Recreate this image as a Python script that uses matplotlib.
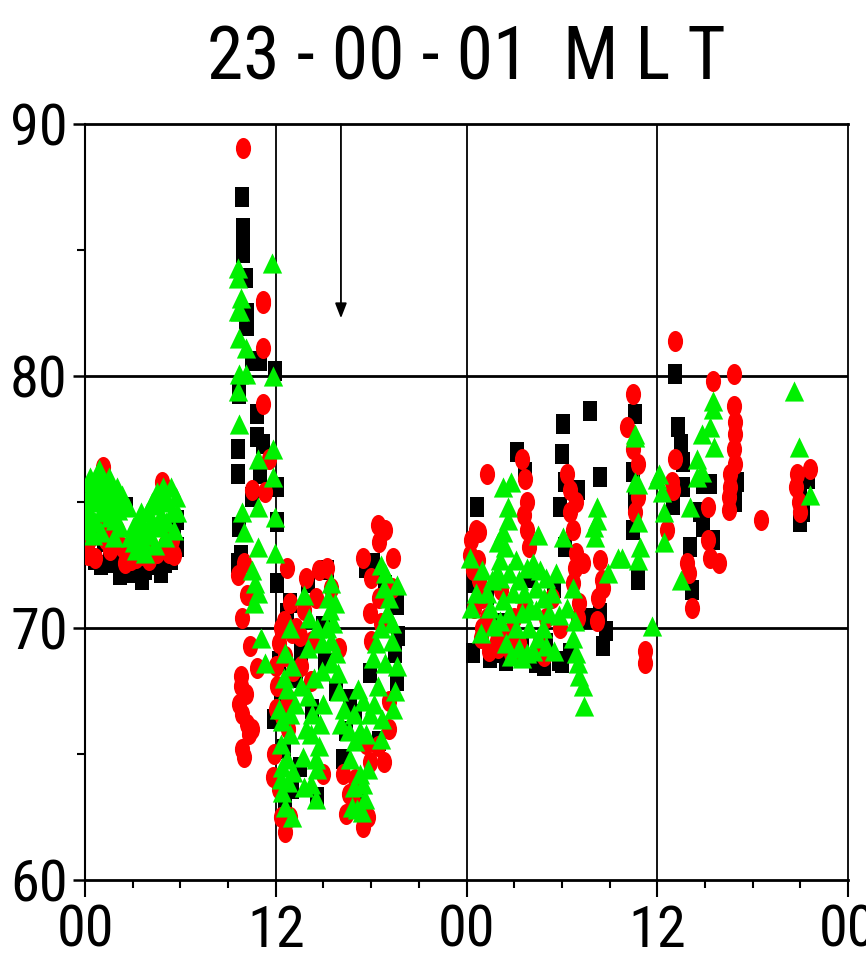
"""Invariant latitude of the auroral oval vs UT, 23-00-01 MLT sector."""

import matplotlib
import matplotlib.pyplot as plt
from matplotlib import font_manager
from matplotlib.path import Path

matplotlib.use("Agg")

# (UT hour over two days, latitude in deg)
BLACK_PTS = [
    (0.2, 73.0), (0.6, 72.7), (1.2, 73.4), (1.6, 72.6), (2.0, 72.9), (2.4, 72.4), (2.8, 72.3),
    (3.1, 72.2), (3.4, 72.4), (3.8, 72.3), (4.2, 72.5), (4.6, 72.8), (5.0, 72.6), (5.4, 72.7),
    (5.8, 73.2), (5.8, 74.3), (2.6, 74.8), (5.6, 74.0), (1.0, 72.5), (2.2, 72.1), (4.8, 72.2),
    (3.6, 71.9),
    (9.9, 87.1), (9.95, 85.9), (9.95, 85.3), (9.95, 84.9), (10.1, 83.9), (10.2, 82.5), (10.2, 82.0),
    (10.1, 82.2), (10.5, 80.6), (11.0, 80.6), (11.95, 80.2), (9.7, 79.3), (10.8, 78.5), (9.6, 77.1),
    (10.8, 77.6), (11.2, 77.3), (9.6, 76.1), (11.0, 76.1), (12.1, 75.6), (9.7, 74.0), (12.1, 74.2),
    (9.6, 72.6), (12.1, 71.8), (10.5, 75.2), (9.8, 72.9),
    (12.7, 70.6), (12.2, 68.7), (12.3, 67.0), (11.9, 66.4), (12.5, 65.2), (13.0, 63.6), (14.6, 63.3),
    (15.1, 68.6), (15.2, 72.3), (15.8, 67.5), (16.4, 65.9), (16.7, 67.2), (17.3, 63.6), (18.1, 72.6),
    (17.9, 68.2), (19.6, 67.9), (19.6, 70.9), (18.9, 71.7), (17.0, 66.6), (13.6, 69.1), (14.3, 66.8),
    (19.5, 69.0), (12.6, 62.8), (18.5, 65.5), (12.9, 71.0), (13.3, 68.0), (14.0, 71.8), (15.0, 70.1),
    (17.7, 72.4), (19.7, 69.7), (16.2, 64.8), (13.5, 64.5),
    (24.65, 74.8), (25.3, 71.3), (25.5, 68.8), (26.5, 68.7), (27.2, 77.0), (28.4, 68.6), (29.0, 69.4),
    (30.1, 78.1), (30.0, 76.9), (29.9, 74.8), (30.2, 73.2), (30.5, 69.0), (31.8, 78.6), (32.4, 76.0),
    (32.4, 70.6), (32.8, 69.9), (31.5, 70.4), (27.5, 69.3), (29.5, 71.6), (26.0, 70.2), (28.0, 72.0),
    (31.0, 75.5), (24.4, 69.0), (27.0, 68.9), (29.8, 68.7), (26.0, 69.0), (28.9, 68.5), (30.0, 68.6),
    (32.6, 69.3), (24.5, 71.8), (27.7, 76.2), (30.2, 75.8),
    (34.6, 78.5), (34.5, 76.2), (34.6, 75.0), (34.5, 73.9), (34.8, 71.9), (37.1, 80.1), (37.3, 78.0),
    (37.5, 77.3), (37.6, 76.6), (37.6, 75.6), (37.0, 74.9), (38.05, 73.2), (38.2, 71.5), (38.9, 75.7),
    (39.3, 75.7), (38.7, 74.6), (38.9, 74.0), (39.5, 73.5), (40.9, 75.0), (41.0, 75.8), (45.0, 75.5),
    (45.2, 74.6), (45.0, 74.2), (45.5, 75.9),
]

RED_PTS = [
    (0.1, 73.3), (0.2, 72.9), (0.4, 73.6), (0.6, 72.8), (0.8, 73.9), (1.1, 76.4), (1.3, 73.5),
    (1.6, 73.1), (2.0, 73.9), (2.3, 73.2), (2.6, 73.0), (2.9, 72.7), (3.2, 72.8), (3.5, 72.9),
    (3.8, 73.0), (4.2, 73.1), (4.5, 73.0), (4.85, 75.8), (5.0, 73.3), (5.3, 73.0), (5.5, 73.5),
    (1.4, 74.2), (0.1, 74.0), (2.5, 72.6), (4.0, 72.7), (5.6, 72.9),
    (9.94, 89.05), (11.2, 83.0), (11.2, 81.1), (11.2, 82.9), (11.2, 78.9), (11.6, 76.7), (10.5, 75.5),
    (11.3, 75.4), (9.6, 72.1), (10.0, 72.6), (12.7, 72.4), (9.9, 70.4), (10.2, 71.3),
    (10.4, 69.3), (9.8, 68.1), (10.1, 67.4), (9.7, 67.0), (9.9, 66.6), (10.5, 66.0), (10.3, 65.8),
    (9.9, 65.2), (10.0, 64.9), (10.8, 68.4), (9.8, 67.7), (10.2, 66.2),
    (12.5, 70.3), (12.2, 69.4), (12.6, 68.9), (13.0, 69.8), (12.1, 67.7), (12.8, 67.2), (12.4, 66.5),
    (13.3, 70.0), (11.8, 64.1), (12.2, 63.6), (12.6, 61.9), (12.9, 62.5), (12.3, 70.0), (12.0, 68.5),
    (12.9, 71.0), (13.1, 68.3), (12.8, 66.0), (11.9, 65.0), (13.5, 69.7), (12.3, 62.5), (12.0, 66.8),
    (13.9, 72.0), (13.8, 70.7), (14.3, 69.5), (14.5, 71.2), (15.0, 64.2), (14.2, 67.9), (13.6, 68.5),
    (14.7, 72.3), (15.2, 72.4), (15.5, 71.6), (16.0, 69.2),
    (16.2, 64.2), (16.6, 63.4), (17.5, 62.1), (17.8, 62.5), (17.7, 65.4), (17.9, 64.7), (16.9, 63.0),
    (17.3, 62.8), (17.0, 64.0), (16.4, 62.6),
    (18.4, 74.1), (18.5, 73.4), (17.5, 72.8), (18.0, 72.0), (17.9, 70.6), (18.6, 70.2), (19.1, 67.1),
    (18.4, 65.3), (19.1, 66.0), (18.0, 69.5), (19.4, 72.8), (18.9, 73.9), (19.3, 71.6), (18.5, 71.2),
    (18.8, 64.7),
    (24.6, 73.9), (24.8, 73.8), (24.3, 73.5), (24.7, 72.7), (24.8, 71.9), (25.0, 71.2), (25.3, 70.4),
    (25.4, 69.1), (25.0, 70.0), (25.3, 76.1), (27.5, 76.7), (27.7, 75.9), (27.8, 75.0), (27.8, 73.9),
    (27.9, 73.2), (27.6, 70.8), (26.6, 69.8), (25.9, 69.5), (28.6, 69.5), (28.9, 68.9), (29.4, 71.2),
    (30.3, 76.1), (30.5, 75.5), (30.5, 74.6), (30.7, 73.9), (30.9, 73.0), (30.8, 72.4), (30.7, 71.8),
    (31.1, 71.0), (31.0, 70.4), (32.4, 72.7), (32.6, 71.6), (32.2, 70.3), (32.5, 71.9), (26.2, 71.5),
    (27.0, 70.4), (24.4, 72.3), (24.5, 70.8), (26.0, 69.2), (27.3, 69.4), (24.2, 72.9), (24.9, 69.6),
    (26.8, 69.0), (29.0, 70.4), (29.9, 70.0), (31.3, 72.6), (30.9, 75.0), (27.6, 74.5), (32.3, 71.2),
    (34.1, 78.0), (34.5, 77.1), (34.8, 76.5), (34.8, 75.2), (34.6, 74.6), (34.5, 79.3), (35.2, 69.1),
    (35.2, 68.6), (37.1, 81.4), (37.1, 76.7), (37.0, 75.5), (36.9, 75.8), (36.6, 73.9), (37.9, 72.6),
    (38.0, 72.2), (38.2, 70.8), (39.5, 79.8), (39.2, 74.8), (39.2, 73.5), (39.3, 72.8), (39.9, 72.6),
    (40.8, 80.1), (40.8, 78.8), (40.9, 78.2), (40.9, 77.7), (40.8, 77.1), (40.9, 76.5), (40.6, 76.1),
    (40.6, 75.6), (40.5, 75.2), (40.5, 74.7), (42.5, 74.3), (44.8, 76.1), (45.6, 76.3), (44.7, 75.6),
    (45.0, 74.6), (44.9, 75.0),
]

GREEN_PTS = [
    (0.1, 74.8), (0.2, 75.3), (0.3, 74.5), (0.4, 75.8), (0.5, 75.0), (0.6, 74.2), (0.7, 75.6),
    (0.8, 76.1), (0.9, 75.2), (1.0, 74.6), (1.1, 75.9), (1.2, 75.4), (1.3, 74.9), (1.4, 75.7),
    (1.5, 75.1), (1.6, 74.4), (1.7, 75.5), (1.8, 75.0), (1.9, 74.3), (2.0, 75.2), (2.1, 74.7),
    (2.2, 74.0), (2.3, 74.9), (2.7, 74.8), (2.8, 73.6), (3.0, 74.0),
    (3.1, 73.4), (3.3, 73.8), (3.4, 74.2), (3.6, 73.5), (3.7, 74.0), (3.9, 74.6), (4.0, 73.7),
    (4.2, 74.3), (4.3, 74.9), (4.5, 74.0), (4.6, 75.1), (4.8, 74.5), (4.9, 75.3), (5.1, 74.2),
    (5.2, 75.0), (5.4, 75.6), (5.5, 74.6), (5.7, 75.2), (0.2, 73.9), (0.5, 73.7), (1.0, 73.8),
    (1.8, 73.6), (3.2, 73.1), (3.8, 73.0), (4.4, 73.3), (5.0, 73.6), (5.6, 73.9), (0.9, 76.3),
    (1.5, 76.0), (4.9, 75.6), (0.3, 76.0), (0.6, 75.9), (2.0, 75.6), (2.3, 75.3), (4.2, 75.0),
    (4.5, 75.4), (3.5, 74.6), (5.8, 74.6), (0.1, 74.0),
    (9.6, 84.3), (9.6, 83.9), (9.8, 83.1), (9.6, 82.6), (9.75, 82.6), (9.7, 81.5), (10.1, 81.1),
    (10.1, 80.1), (9.7, 80.1), (11.8, 80.0), (11.76, 84.5), (9.6, 79.4), (9.7, 78.1), (11.8, 77.1),
    (10.9, 76.7), (11.8, 76.0), (9.9, 74.6), (10.9, 74.8), (11.95, 74.4), (10.0, 73.8), (10.9, 73.2),
    (11.95, 73.0), (10.5, 72.3), (10.7, 71.8), (10.9, 71.4), (10.6, 71.0), (11.1, 69.6), (11.3, 68.6),
    (12.9, 70.0), (13.0, 68.5), (12.7, 67.6), (12.4, 66.3), (12.3, 65.4), (12.9, 65.8), (12.4, 64.5),
    (12.8, 63.9), (12.4, 63.5), (13.0, 62.5), (12.2, 66.8), (13.2, 67.0), (12.6, 69.0),
    (12.5, 68.0), (12.9, 66.6), (12.3, 64.0), (12.7, 64.8), (12.6, 62.9), (13.1, 64.3),
    (14.0, 69.2), (13.6, 67.7), (14.3, 66.6), (14.2, 65.8), (14.5, 64.8), (14.6, 64.4), (14.5, 63.2),
    (14.9, 68.3), (15.0, 67.0), (14.8, 66.2), (14.4, 68.0), (13.9, 66.0), (14.1, 70.4), (13.7, 64.9),
    (13.8, 71.3), (14.6, 70.0), (14.9, 69.4), (14.0, 67.3), (14.7, 65.3), (14.2, 63.8), (13.8, 63.7),
    (15.5, 71.8), (15.4, 70.7), (15.5, 69.5), (15.6, 70.2), (15.9, 68.2), (16.3, 66.8), (15.3, 71.2),
    (15.8, 69.0), (16.0, 67.5), (15.7, 71.0), (15.2, 70.0), (16.1, 66.2), (15.5, 68.6),
    (16.7, 64.8), (16.9, 63.7), (17.1, 62.8), (16.9, 66.6), (17.5, 67.1), (17.7, 65.8), (17.3, 64.2),
    (17.0, 65.5), (17.6, 63.2), (17.4, 62.7), (16.6, 65.9), (17.2, 67.6), (17.8, 64.4), (16.8, 62.9),
    (17.5, 63.8),
    (18.9, 72.2), (19.1, 71.2), (18.6, 70.0), (18.1, 68.8), (19.6, 68.5), (18.4, 67.7), (17.9, 66.6),
    (17.3, 65.9), (19.0, 70.6), (19.3, 69.5), (19.5, 67.5), (18.7, 66.4), (18.8, 71.6), (18.3, 69.4),
    (18.9, 68.6), (19.3, 70.2), (19.6, 71.7), (18.2, 67.0), (18.6, 65.6), (19.4, 66.8), (18.6, 72.5),
    (24.2, 72.8), (24.3, 70.8), (24.9, 69.8), (26.3, 75.6), (26.8, 75.8), (26.6, 74.8), (26.6, 74.3),
    (26.3, 73.8), (26.4, 73.2), (26.1, 72.7), (25.9, 72.2), (28.5, 73.7), (30.1, 73.6), (26.1, 72.0),
    (26.7, 72.2), (27.3, 71.9), (27.8, 72.4), (28.2, 72.6), (28.6, 72.3), (29.0, 72.0), (29.4, 71.4),
    (28.4, 71.6), (27.6, 71.4), (26.9, 71.4), (26.3, 71.1), (26.7, 70.6), (27.5, 70.6), (28.4, 70.7),
    (29.2, 70.6), (27.1, 70.0), (27.9, 70.0), (28.8, 70.0), (26.1, 70.3), (25.5, 70.8), (25.3, 71.4),
    (27.3, 69.2), (27.8, 69.0), (29.5, 69.1), (28.5, 69.6), (29.8, 70.5), (25.7, 70.1), (26.5, 69.4),
    (28.0, 70.8), (29.0, 69.3), (28.9, 71.2), (27.1, 72.7), (26.0, 73.4), (25.6, 71.9), (27.5, 68.8),
    (28.2, 69.1), (26.8, 68.9), (29.6, 72.2), (25.0, 72.3), (24.6, 71.4),
    (30.7, 71.6), (30.3, 70.8), (30.8, 70.3), (30.7, 69.6), (30.9, 69.0), (31.1, 68.1), (31.3, 67.7),
    (31.4, 66.9), (31.0, 68.6), (32.2, 74.8), (32.2, 74.3), (32.1, 73.6), (33.5, 72.8), (32.9, 72.2),
    (32.0, 74.0),
    (34.6, 77.7), (34.6, 77.6), (34.6, 75.8), (34.8, 75.7), (34.8, 74.2), (34.9, 73.2), (34.8, 72.7),
    (33.8, 72.8), (35.7, 70.1), (36.0, 75.9), (36.1, 76.1), (36.3, 75.4), (36.4, 74.6), (36.4, 73.4),
    (38.05, 74.8), (37.5, 71.9), (39.5, 79.0), (39.5, 78.7), (38.8, 77.7), (39.3, 78.0), (39.6, 77.2),
    (38.5, 76.7), (38.5, 76.0), (38.8, 76.2), (44.6, 79.4), (44.9, 77.2), (45.6, 75.3),
]

X_TICKS = [0, 12, 24, 36, 48]
X_TICK_LABELS = ["00", "12", "00", "12", "00"]
Y_TICKS = [60, 70, 80, 90]
TITLE = "23 - 00 - 01  M L T"
ARROW_HOUR = 16.1
ARROW_TIP = 82.3

# the original plot is stretched vertically, so the markers are taller than wide
ELLIPSE = Path(Path.unit_circle().vertices * [0.72, 1.0], Path.unit_circle().codes)
TALL_SQUARE = Path([(-0.37, -0.5), (0.37, -0.5), (0.37, 0.5), (-0.37, 0.5), (-0.37, -0.5)],
                   [Path.MOVETO, Path.LINETO, Path.LINETO, Path.LINETO, Path.CLOSEPOLY])
TRIANGLE = Path([(0.0, 0.5), (-0.48, -0.5), (0.48, -0.5), (0.0, 0.5)],
                [Path.MOVETO, Path.LINETO, Path.LINETO, Path.CLOSEPOLY])


def pick_font() -> str:
    for name in ("Liberation Sans Narrow", "Roboto Condensed", "Liberation Sans"):
        try:
            font_manager.findfont(name, fallback_to_default=False)
            return name
        except ValueError:
            continue
    return "DejaVu Sans"


def main() -> None:
    font = pick_font()
    print("font:", font)
    plt.rcParams["font.family"] = [font, "DejaVu Sans"]

    fig = plt.figure(figsize=(8.66, 9.59), dpi=100)
    ax = fig.add_axes([0.0982, 0.0824, 0.881, 0.788])

    for xv in (12, 24, 36):
        ax.axvline(xv, color="black", linewidth=1.3, zorder=1)
    for yv in (70, 80):
        ax.axhline(yv, color="black", linewidth=2.0, zorder=1)

    bx, by = zip(*BLACK_PTS)
    rx, ry = zip(*RED_PTS)
    gx, gy = zip(*GREEN_PTS)
    ax.scatter(bx, by, marker=TALL_SQUARE, s=195, color="black", linewidths=0, zorder=3)
    ax.scatter(rx, ry, marker=ELLIPSE, s=230, color="#FF0000", linewidths=0, zorder=4)
    ax.scatter(gx, gy, marker=TRIANGLE, s=210, color="#00F000", linewidths=0, zorder=5)

    ax.annotate("", xy=(ARROW_HOUR, ARROW_TIP), xytext=(ARROW_HOUR, 90),
                arrowprops=dict(arrowstyle="-|>,head_length=0.9,head_width=0.35",
                                color="black", linewidth=1.3, shrinkA=0, shrinkB=0),
                zorder=6)

    ax.set_xlim(0, 48)
    ax.set_ylim(60, 90)
    ax.set_xticks(X_TICKS)
    ax.set_xticklabels(X_TICK_LABELS)
    ax.set_xticks(range(0, 49, 3), minor=True)
    ax.set_yticks(Y_TICKS)
    ax.set_yticks([65, 75, 85], minor=True)

    ax.tick_params(axis="x", which="major", direction="out", length=12, width=1.5,
                   labelsize=42, pad=5)
    ax.tick_params(axis="x", which="minor", direction="out", length=6, width=1.5)
    ax.tick_params(axis="y", which="major", direction="out", length=8.5, width=1.8,
                   labelsize=42, pad=4)
    ax.tick_params(axis="y", which="minor", direction="out", length=5.5, width=1.5)

    ax.spines["left"].set_linewidth(1.5)
    ax.spines["bottom"].set_linewidth(2.0)
    ax.spines["top"].set_linewidth(2.0)
    ax.spines["right"].set_linewidth(1.3)

    fig.text(0.539, 0.917, TITLE, ha="center", va="baseline", fontsize=53)

    fig.savefig("out.png", dpi=100)


if __name__ == "__main__":
    main()
